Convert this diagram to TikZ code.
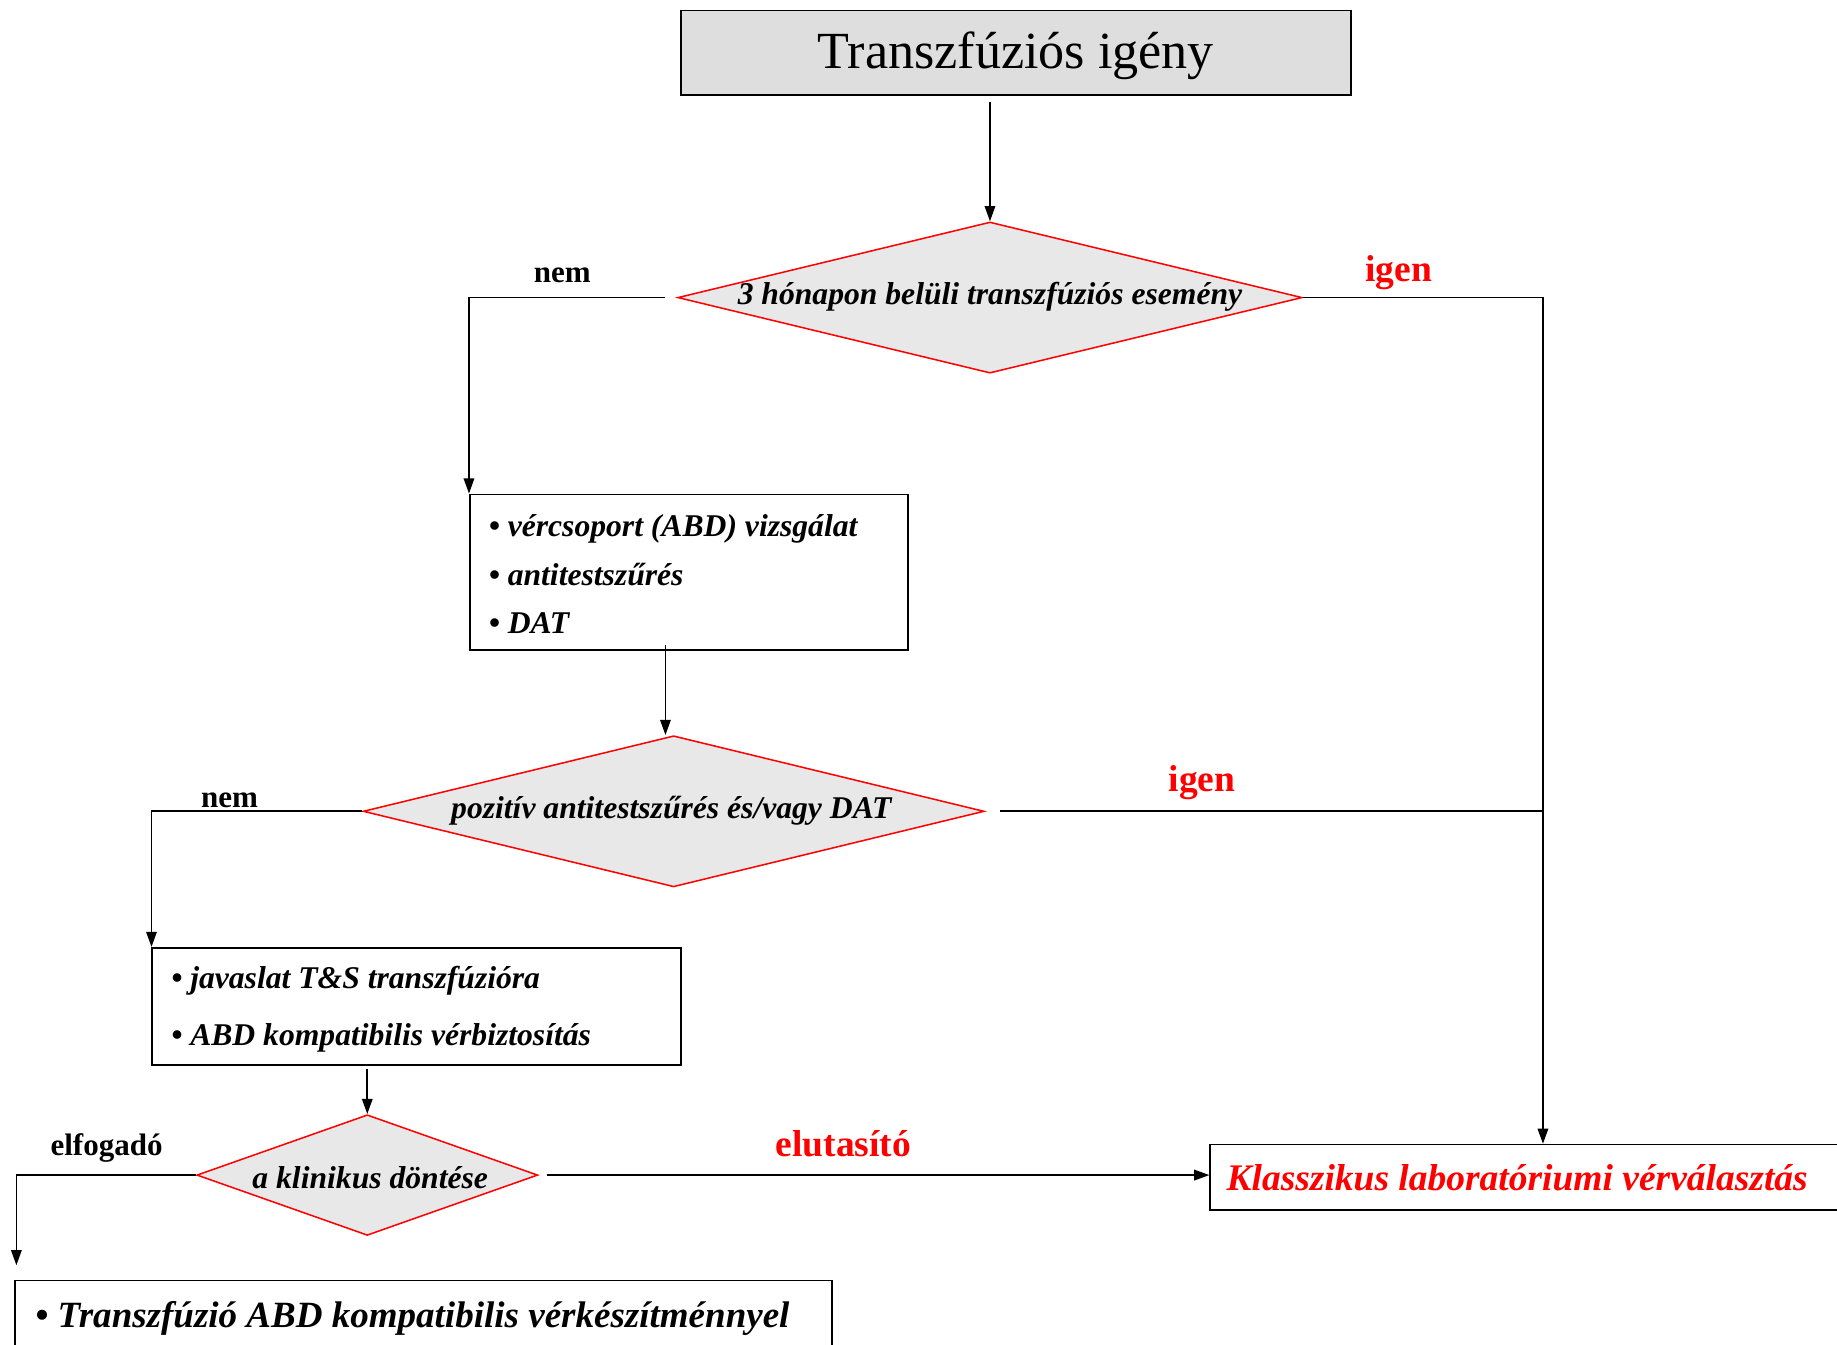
\documentclass[tikz,border=0pt]{standalone}
\usepackage{fontspec}
\setmainfont{Liberation Serif}
\usetikzlibrary{shapes.geometric,arrows.meta,calc}
\definecolor{boxgray}{HTML}{DEDEDE}
\definecolor{diagray}{HTML}{E8E8E8}
\begin{document}
\begin{tikzpicture}[x=1pt,y=-1pt,
  box/.style={draw, line width=1.4pt, rectangle, inner sep=0pt},
  dia/.style={diamond, draw=red, fill=diagray, line width=1.3pt, inner sep=0pt},
  dtext/.style={inner sep=0pt, font=\fontsize{27}{32}\selectfont\bfseries\itshape},
  btext/.style={inner sep=0pt, anchor=west, align=left},
  lab/.style={inner sep=0pt, font=\fontsize{26.5}{30}\selectfont\bfseries},
  labr/.style={inner sep=0pt, text=red, font=\fontsize{32}{36}\selectfont\bfseries},
  ln/.style={line width=1.4pt},
  arr/.style={ln, -{Triangle[length=13pt,width=9pt]}}]
\useasboundingbox (0,0) rectangle (1568,1148);

% nodes
\node[box, fill=boxgray, minimum width=572pt, minimum height=72pt] (top) at (867,45) {};
\node[inner sep=0pt, font=\fontsize{44.5}{50}\selectfont] (topt) at (867,48) {Transzfúziós igény};

\node[dia, minimum width=533pt, minimum height=129pt] (d1) at (845,254) {};
\node[dtext] (d1t) at (845,253) {3 hónapon belüli transzfúziós esemény};

\node[box, minimum width=374pt, minimum height=133pt] (b2) at (588,488.5) {};
\node[btext, font=\fontsize{27}{41}\selectfont\bfseries\itshape] (b2t) at (417,490)
  {• vércsoport (ABD) vizsgálat\\• antitestszűrés\\• DAT};

\node[dia, minimum width=530pt, minimum height=129pt] (d2) at (575,692.5) {};
\node[dtext] (d2t) at (573,692) {pozitív antitestszűrés és/vagy DAT};

\node[box, minimum width=451pt, minimum height=100pt] (b3) at (355.5,859) {};
\node[btext, font=\fontsize{27}{49}\selectfont\bfseries\itshape] (b3t) at (146,861.5)
  {• javaslat T\&S transzfúzióra\\• ABD kompatibilis vérbiztosítás};

\node[dia, minimum width=291pt, minimum height=103pt] (d3) at (313.5,1003) {};
\node[dtext] (d3t) at (316,1005) {a klinikus döntése};

\node[box, minimum width=557pt, minimum height=56pt] (kl) at (1311.5,1005) {};
\node[inner sep=0pt, text=red, font=\fontsize{32}{36}\selectfont\bfseries\itshape] (klt) at (1295,1005)
  {Klasszikus laboratóriumi vérválasztás};

\node[box, minimum width=697pt, minimum height=77pt] (b4) at (361.5,1131.5) {};
\node[btext, font=\fontsize{31.6}{36}\selectfont\bfseries\itshape] (b4t) at (30,1125)
  {• Transzfúzió ABD kompatibilis vérkészítménnyel};

% labels
\node[lab] (n1) at (480,235) {nem};
\node[labr] (i1) at (1194,233) {igen};
\node[lab] (n2) at (196,683) {nem};
\node[labr] (i2) at (1026,668) {igen};
\node[lab] (ef) at (91,980) {elfogadó};
\node[labr] (el) at (720,976) {elutasító};

% connectors
\coordinate (rc) at (1317,254);
\coordinate (ea) at (14,1080);
\draw[arr, shorten <=5pt] (top.south -| d1.north) -- (d1.north);
\draw[arr, shorten <=10pt] (d1.west) -| (b2.north west);
\draw[arr] (d1.east) -- (rc) -- (rc |- kl.north);
\draw[arr] ([xshift=-20pt]b2.south) ++(0,-5) -- (d2.north -| 568,0);
\draw[arr] (d2.west) -| (b3.north west);
\draw[ln, shorten <=13pt] (d2.east) -- (d2.east -| rc);
\draw[arr, shorten <=3pt] (b3.south -| d3.north) -- (d3.north);
\draw[arr] (d3.west) -| (ea);
\draw[arr, shorten <=7pt] (d3.east) -- (d3.east -| kl.west);
\end{tikzpicture}
\end{document}
